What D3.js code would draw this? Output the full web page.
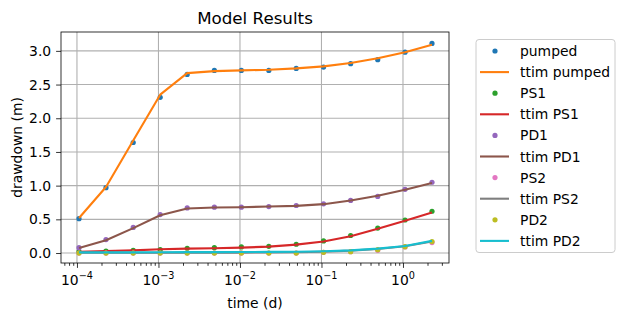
<!DOCTYPE html>
<html>
<head>
<meta charset="utf-8">
<script src="https://cdn.jsdelivr.net/npm/d3@7"></script>
<style>
  body { margin: 0; background: #fff; }
  svg { font-family: "DejaVu Sans", sans-serif; }
</style>
</head>
<body>
<div id="chart"></div>
<script>
// data
var times = [1.06e-4, 2.27e-4, 4.9e-4, 1.05e-3, 2.25e-3, 4.85e-3, 1.04e-2, 2.26e-2, 4.9e-2, 0.106, 0.228, 0.49, 1.06, 2.27];

var pumped     = [0.51, 0.97, 1.64, 2.31, 2.65, 2.71, 2.71, 2.71, 2.74, 2.76, 2.81, 2.87, 2.98, 3.11];
var ttimPumped = [0.52, 0.98, 1.67, 2.35, 2.67, 2.70, 2.71, 2.72, 2.74, 2.77, 2.82, 2.89, 2.98, 3.09];
var ps1        = [0.02, 0.03, 0.04, 0.05, 0.07, 0.08, 0.09, 0.10, 0.13, 0.18, 0.26, 0.37, 0.49, 0.62];
var ttimPs1    = [0.02, 0.03, 0.04, 0.055, 0.065, 0.07, 0.08, 0.095, 0.125, 0.17, 0.25, 0.36, 0.48, 0.60];
var pd1        = [0.08, 0.20, 0.38, 0.57, 0.67, 0.68, 0.68, 0.69, 0.705, 0.73, 0.78, 0.84, 0.945, 1.05];
var ttimPd1    = [0.075, 0.19, 0.37, 0.56, 0.66, 0.675, 0.68, 0.69, 0.70, 0.725, 0.78, 0.85, 0.94, 1.04];
var ps2        = [0, 0, 0, 0, 0, 0, 0, 0, 0, 0.01, 0.02, 0.04, 0.09, 0.155];
var ttimPs2    = [0.005, 0.005, 0.005, 0.005, 0.005, 0.005, 0.006, 0.008, 0.012, 0.02, 0.035, 0.06, 0.10, 0.17];
var pd2        = [0, 0, 0, 0, 0, 0, 0, 0, 0, 0.01, 0.02, 0.05, 0.095, 0.17];
var ttimPd2    = [0.01, 0.01, 0.01, 0.012, 0.013, 0.014, 0.015, 0.017, 0.02, 0.027, 0.04, 0.065, 0.105, 0.18];

var xTicks = [1e-4, 1e-3, 1e-2, 1e-1, 1];
var yTicks = [0, 0.5, 1.0, 1.5, 2.0, 2.5, 3.0];

// draw order follows the legend
var series = [
  {name: "pumped", type: "dot", values: pumped, color: "#1f77b4"},
  {name: "ttim pumped", type: "line", values: ttimPumped, color: "#ff7f0e"},
  {name: "PS1", type: "dot", values: ps1, color: "#2ca02c"},
  {name: "ttim PS1", type: "line", values: ttimPs1, color: "#d62728"},
  {name: "PD1", type: "dot", values: pd1, color: "#9467bd"},
  {name: "ttim PD1", type: "line", values: ttimPd1, color: "#8c564b"},
  {name: "PS2", type: "dot", values: ps2, color: "#e377c2"},
  {name: "ttim PS2", type: "line", values: ttimPs2, color: "#7f7f7f"},
  {name: "PD2", type: "dot", values: pd2, color: "#bcbd22"},
  {name: "ttim PD2", type: "line", values: ttimPd2, color: "#17becf"}
];

var W = 625, H = 321;
var margin = {left: 61, top: 32, width: 388, height: 231};

var svg = d3.select("#chart").append("svg")
    .attr("width", W)
    .attr("height", H);

var x = d3.scaleLog()
    .domain([6.37e-5, 3.67])
    .range([margin.left, margin.left + margin.width]);
var y = d3.scaleLinear()
    .domain([-0.148, 3.28])
    .range([margin.top + margin.height, margin.top]);

//grid
var grid = svg.append("g");
grid.selectAll(".gx").data(xTicks).enter().append("line")
    .attr("x1", function(d) { return x(d); })
    .attr("x2", function(d) { return x(d); })
    .attr("y1", margin.top)
    .attr("y2", margin.top + margin.height)
    .attr("stroke", "#b0b0b0").attr("stroke-width", 1.1);
grid.selectAll(".gy").data(yTicks).enter().append("line")
    .attr("x1", margin.left)
    .attr("x2", margin.left + margin.width)
    .attr("y1", function(d) { return y(d); })
    .attr("y2", function(d) { return y(d); })
    .attr("stroke", "#b0b0b0").attr("stroke-width", 1.1);

// clip
svg.append("clipPath").attr("id", "clip").append("rect")
    .attr("x", margin.left).attr("y", margin.top)
    .attr("width", margin.width).attr("height", margin.height);

var plot = svg.append("g").attr("clip-path", "url(#clip)");
var line = d3.line()
    .x(function(d, i) { return x(times[i]); })
    .y(function(d) { return y(d); });

series.forEach(function(s) {
  if (s.type == "line") {
    plot.append("path")
      .attr("d", line(s.values))
      .attr("fill", "none")
      .attr("stroke", s.color)
      .attr("stroke-width", 2.1)
      .attr("stroke-linejoin", "round");
  } else {
    plot.selectAll(null)
      .data(s.values)
      .enter()
      .append("circle")
      .attr("cx", function(d, i) { return x(times[i]); })
      .attr("cy", function(d) { return y(d); })
      .attr("r", 2.6)
      .attr("fill", s.color);
  }
});

// axes
var minorTicks = [];
for (var e = -5; e <= 0; e++) {
  for (var m = 2; m <= 9; m++) {
    var v = m * Math.pow(10, e);
    if (v > x.domain()[0] && v < x.domain()[1]) minorTicks.push(v);
  }
}

var xAxis = svg.append("g")
    .attr("transform", "translate(0," + (margin.top + margin.height) + ")")
    .call(d3.axisBottom(x).tickValues(xTicks).tickSize(4.9).tickFormat(""));
var xMinor = svg.append("g")
    .attr("transform", "translate(0," + (margin.top + margin.height) + ")")
    .call(d3.axisBottom(x).tickValues(minorTicks).tickSize(2.8).tickFormat(""));
[xAxis, xMinor].forEach(function(a) {
  a.select(".domain").remove();
  a.selectAll("line").attr("stroke", "#000").attr("stroke-width", 0.8);
});

// x tick labels with superscripts
var xl = svg.append("g");
xTicks.forEach(function(t) {
  var ex = Math.round(Math.log10(t));
  var txt = xl.append("text")
    .attr("x", x(t))
    .attr("y", margin.top + margin.height + 22)
    .attr("text-anchor", "middle")
    .attr("font-size", "13.9px")
    .attr("fill", "#000");
  txt.append("tspan").text("10");
  txt.append("tspan")
    .attr("dy", -6)
    .attr("font-size", "9.7px")
    .text(ex < 0 ? "\u2212" + (-ex) : "" + ex);
});

var yAxis = svg.append("g")
    .attr("transform", "translate(" + margin.left + ",0)")
    .call(d3.axisLeft(y).tickValues(yTicks).tickSize(4.9).tickPadding(4.9)
      .tickFormat(d3.format(".1f")));
yAxis.select(".domain").remove();
yAxis.selectAll("line").attr("stroke", "#000").attr("stroke-width", 0.8);
yAxis.selectAll("text").attr("font-size", "13.9px").attr("fill", "#000")
    .attr("font-family", "DejaVu Sans, sans-serif");

// frame
svg.append("rect")
    .attr("x", margin.left).attr("y", margin.top)
    .attr("width", margin.width).attr("height", margin.height)
    .attr("fill", "none").attr("stroke", "#000").attr("stroke-width", 0.8);

// titles
svg.append("text")
    .attr("x", margin.left + margin.width / 2)
    .attr("y", margin.top - 8)
    .attr("text-anchor", "middle")
    .attr("font-size", "16.7px")
    .text("Model Results");
svg.append("text")
    .attr("x", margin.left + margin.width / 2)
    .attr("y", 308)
    .attr("text-anchor", "middle")
    .attr("font-size", "13.9px")
    .text("time (d)");
svg.append("text")
    .attr("transform", "translate(22," + (margin.top + margin.height / 2) + ") rotate(-90)")
    .attr("text-anchor", "middle")
    .attr("font-size", "13.9px")
    .text("drawdown (m)");

// legend
var lg = svg.append("g");
lg.append("rect")
    .attr("x", 476).attr("y", 39.5)
    .attr("width", 139).attr("height", 213)
    .attr("rx", 3)
    .attr("fill", "#fff").attr("fill-opacity", 0.8)
    .attr("stroke", "#cccccc").attr("stroke-width", 1);
var rows = lg.selectAll(".row").data(series).enter().append("g")
    .attr("transform", function(d, i) { return "translate(0," + (51 + i * 21.1) + ")"; });
rows.each(function(d) {
  var r = d3.select(this);
  if (d.type == "line") {
    r.append("line").attr("x1", 480).attr("x2", 509).attr("y1", 0).attr("y2", 0)
      .attr("stroke", d.color).attr("stroke-width", 2.1);
  } else {
    r.append("circle").attr("cx", 495).attr("cy", 0).attr("r", 2.6).attr("fill", d.color);
  }
});
rows.append("text")
    .attr("x", 520).attr("y", 5)
    .attr("font-size", "13.9px")
    .text(function(d) { return d.name; });
</script>
</body>
</html>
